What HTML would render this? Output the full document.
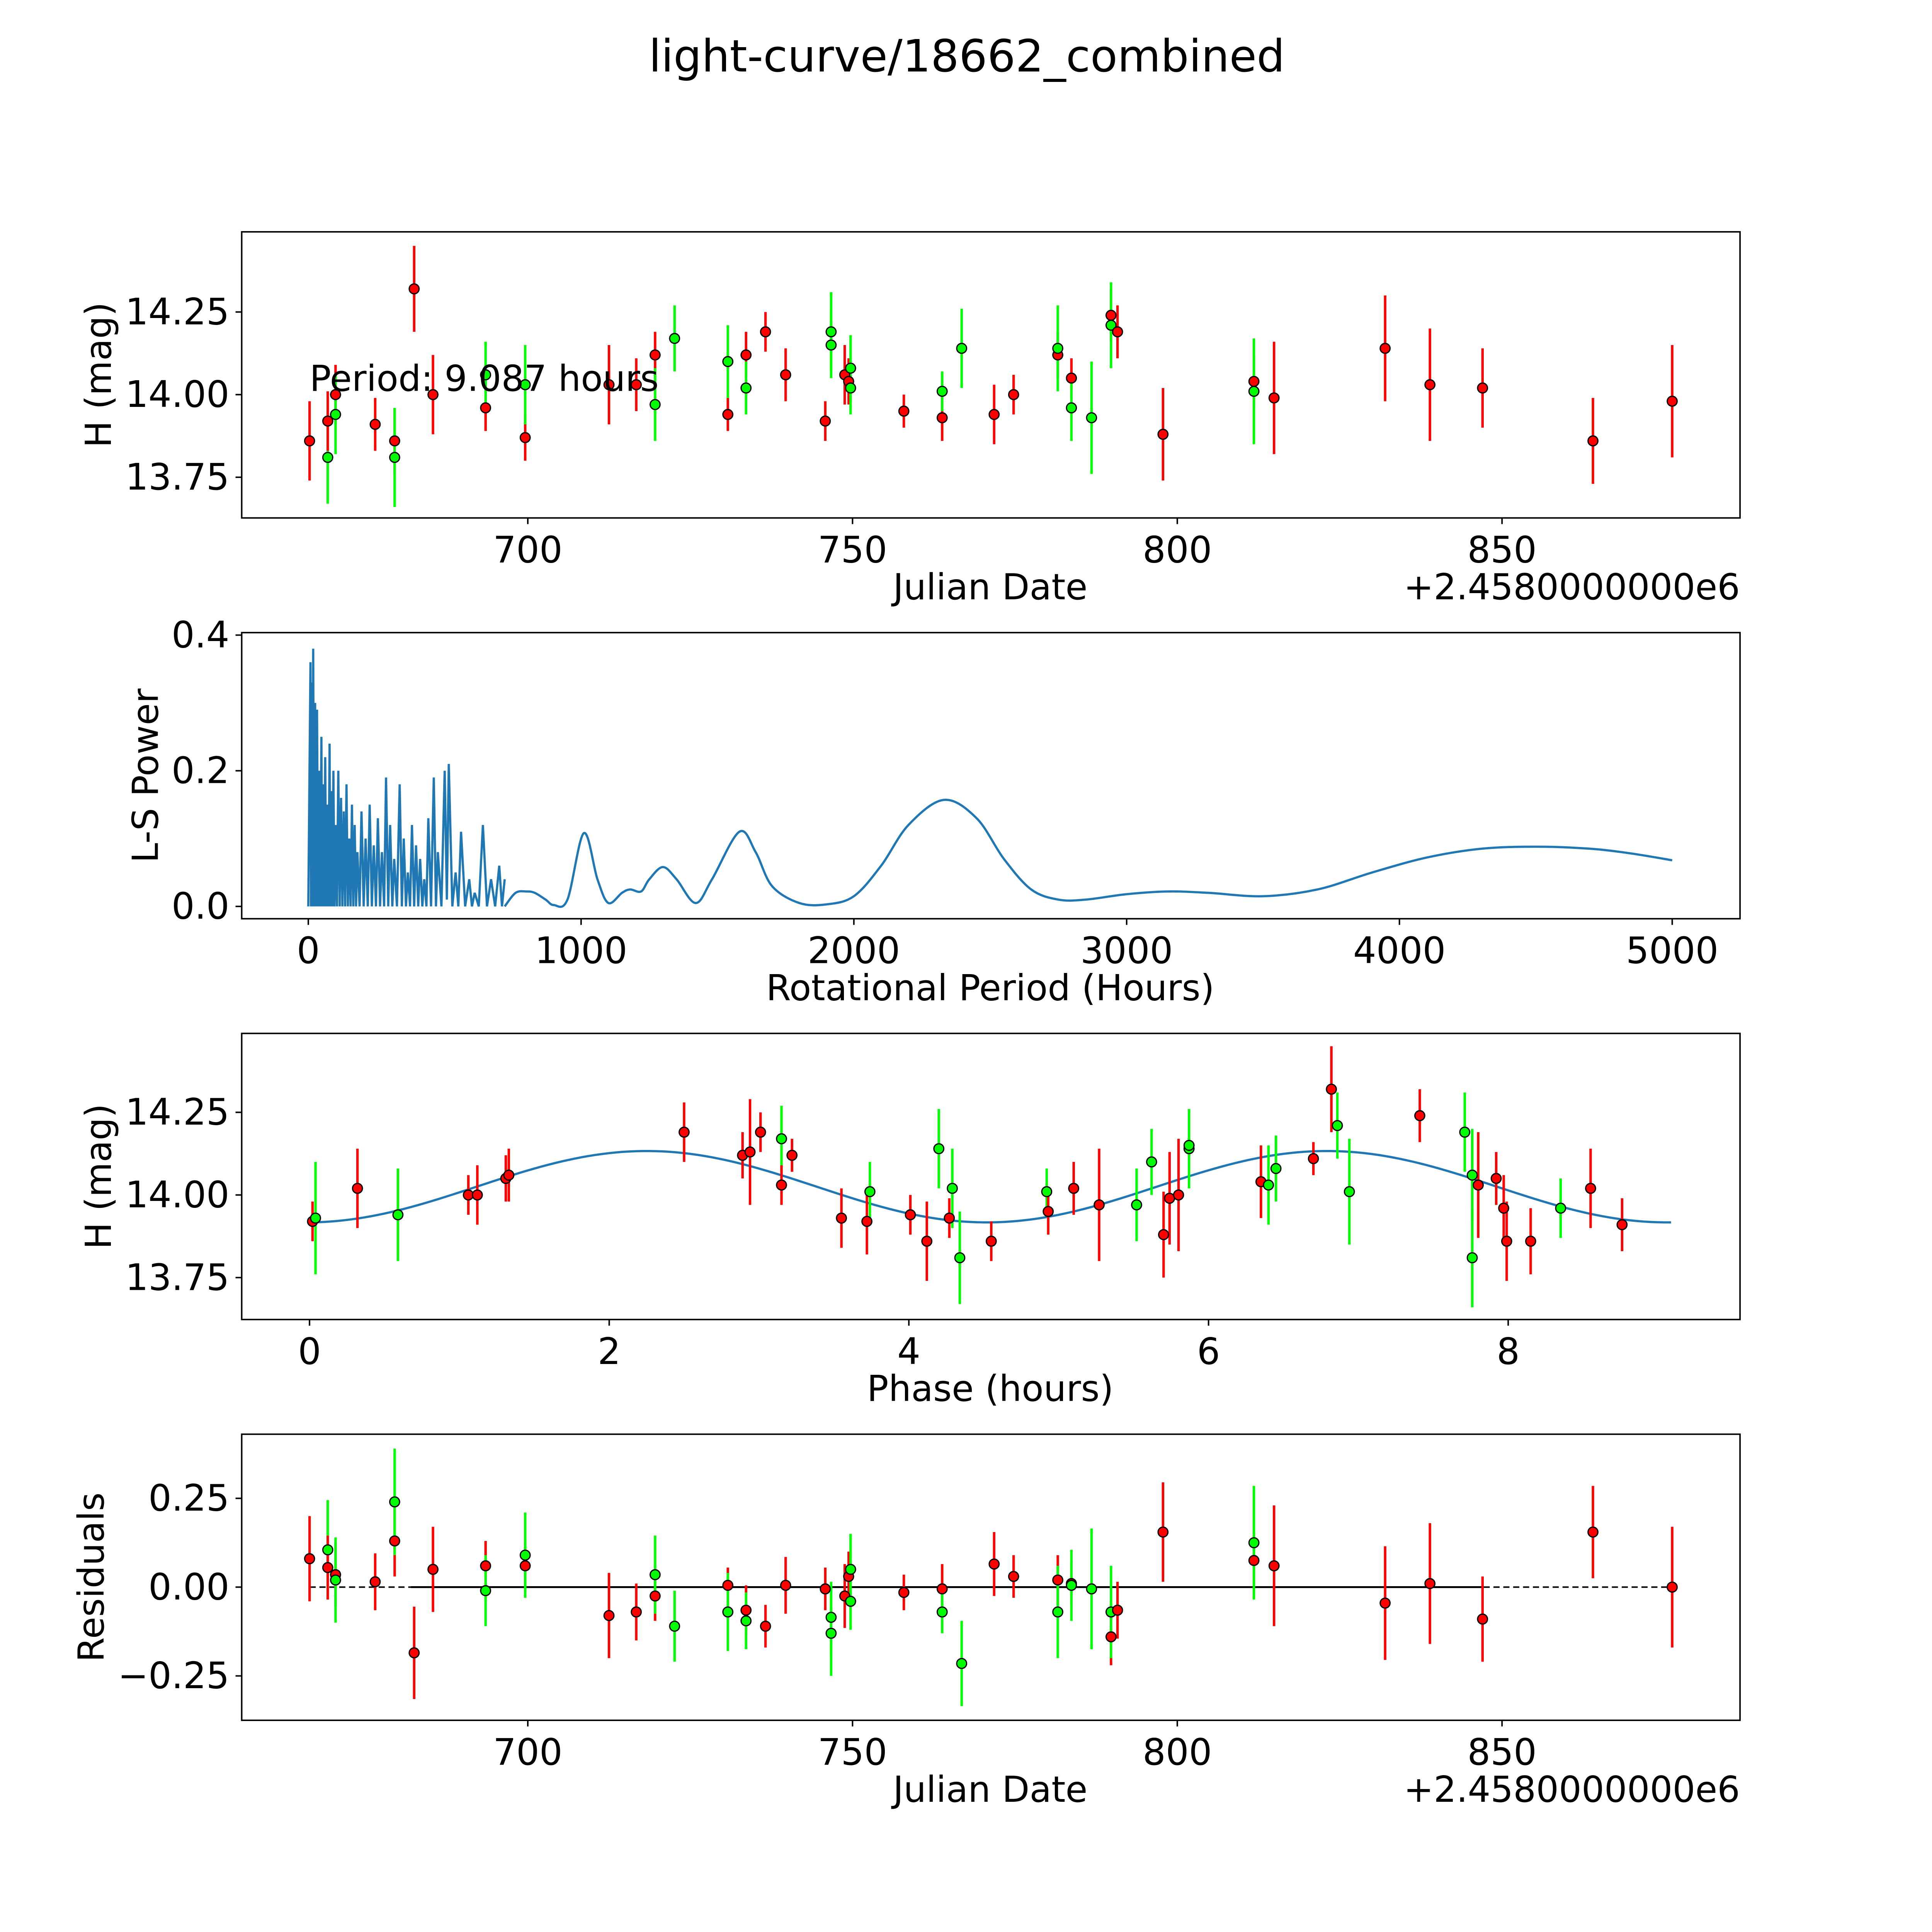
<!DOCTYPE html>
<html><head><meta charset="utf-8"><style>html,body{margin:0;padding:0;background:#fff;overflow:hidden;width:5400px;height:5400px}svg{display:block}text{font-family:"DejaVu Sans","Liberation Sans",sans-serif;fill:#000}</style></head>
<body>
<svg id="fig" xmlns="http://www.w3.org/2000/svg" width="5400" height="5400" viewBox="0 0 1692 1692" preserveAspectRatio="xMinYMin meet">
<rect width="1692" height="1692" fill="#fff"/>
<text x="784" y="58" font-size="36" text-anchor="middle">light-curve/18662_combined</text>
</svg>
<script>
// Light curve observations
const obsDates=[666.4,669.2,669.2,670.4,670.4,676.5,679.5,679.5,682.5,685.4,693.5,693.5,699.6,699.6,712.5,716.7,719.6,719.6,722.6,730.8,730.8,733.6,733.6,736.6,739.7,745.8,746.7,746.7,748.8,749.4,749.7,749.7,757.9,763.8,763.8,766.8,771.8,774.8,781.6,781.6,783.7,783.7,786.8,789.8,789.8,790.8,797.8,811.8,811.8,814.9,832.0,838.9,847.0,864.0,876.2];
const obsMags=[13.86,13.81,13.92,14.00,13.94,13.91,13.86,13.81,14.32,14.00,13.96,14.06,13.87,14.03,14.03,14.03,14.12,13.97,14.17,13.94,14.10,14.12,14.02,14.19,14.06,13.92,14.19,14.15,14.06,14.04,14.08,14.02,13.95,13.93,14.01,14.14,13.94,14.00,14.12,14.14,14.05,13.96,13.93,14.24,14.21,14.19,13.88,14.04,14.01,13.99,14.14,14.03,14.02,13.86,13.98];
const obsErrs=[0.12,0.14,0.09,0.09,0.12,0.08,0.1,0.15,0.13,0.12,0.07,0.1,0.07,0.12,0.12,0.08,0.07,0.11,0.1,0.05,0.11,0.07,0.08,0.06,0.08,0.06,0.12,0.1,0.09,0.07,0.1,0.08,0.05,0.07,0.06,0.12,0.09,0.06,0.07,0.13,0.06,0.1,0.17,0.08,0.13,0.08,0.14,0.08,0.16,0.17,0.16,0.17,0.12,0.13,0.17];
const obsColors=["r","g","r","r","g","r","r","g","r","r","r","g","r","g","r","r","r","g","g","r","g","r","g","r","r","r","g","g","r","r","g","g","r","r","g","g","r","r","r","g","r","g","g","r","g","r","r","r","g","r","r","r","r","r","r"];
const residuals=[0.08,0.105,0.055,0.035,0.02,0.015,0.13,0.24,-0.185,0.05,0.06,-0.01,0.06,0.09,-0.08,-0.07,-0.025,0.035,-0.11,0.005,-0.07,-0.065,-0.095,-0.11,0.005,-0.005,-0.13,-0.085,-0.025,0.03,0.05,-0.04,-0.015,-0.005,-0.07,-0.215,0.065,0.03,0.02,-0.07,0.01,0.005,-0.005,-0.14,-0.07,-0.065,0.155,0.075,0.125,0.06,-0.045,0.01,-0.09,0.155,0.0];
// Phase-folded points
const phases=[0.02,0.04,0.32,0.59,1.06,1.12,1.31,1.33,2.5,2.89,2.94,3.01,3.15,3.15,3.22,3.55,3.72,3.74,4.01,4.12,4.2,4.27,4.29,4.34,4.55,4.92,4.93,5.1,5.27,5.52,5.62,5.7,5.74,5.8,5.87,5.87,6.35,6.4,6.45,6.7,6.82,6.86,6.94,7.41,7.71,7.76,7.8,7.76,7.92,7.97,7.99,8.15,8.35,8.55,8.76];
const phaseMags=[13.92,13.93,14.02,13.94,14.00,14.00,14.05,14.06,14.19,14.12,14.13,14.19,14.17,14.03,14.12,13.93,13.92,14.01,13.94,13.86,14.14,13.93,14.02,13.81,13.86,14.01,13.95,14.02,13.97,13.97,14.10,13.88,13.99,14.00,14.14,14.15,14.04,14.03,14.08,14.11,14.32,14.21,14.01,14.24,14.19,14.06,14.03,13.81,14.05,13.96,13.86,13.86,13.96,14.02,13.91];
const phaseErrs=[0.06,0.17,0.12,0.14,0.06,0.09,0.07,0.08,0.09,0.07,0.16,0.06,0.1,0.06,0.05,0.09,0.1,0.09,0.06,0.12,0.12,0.06,0.12,0.14,0.06,0.07,0.07,0.08,0.17,0.11,0.1,0.13,0.14,0.17,0.12,0.1,0.11,0.12,0.1,0.05,0.13,0.1,0.16,0.08,0.12,0.14,0.16,0.15,0.08,0.1,0.12,0.1,0.09,0.12,0.08];
const phaseColors=["r","g","r","g","r","r","r","r","r","r","r","r","g","r","r","r","r","g","r","r","g","r","g","g","r","g","r","r","r","g","g","r","r","r","g","g","r","g","g","r","r","g","g","r","g","g","r","g","r","r","r","r","g","r","r"];
// Fit model parameters
const fitMean=[14.025];const fitAmp=[0.108];const fitPeak=[2.25];const fitCycle=[4.54];const fitRange=[0,9.087];
// Periodogram
const lsPeriods=[0,8,10,12,14,18,21,25,28,32,36,40,44,48,51,55,58,62,66,70,74,78,81,85,88,92,96,100,105,110,115,120,125,130,135,140,145,150,155,160,165,170,175,180,188,195,203,210,218,225,233,240,248,255,263,270,278,285,293,300,308,315,325,335,343,350,358,365,373,380,388,395,403,410,418,425,433,440,450,460,468,475,488,500,508,515,528,540,550,560,575,590,600,610,625,640,655,670,685,700,710,720];
const lsPowers=[0,0.36,0,0.33,0,0.38,0,0.3,0,0.29,0,0.2,0,0.25,0,0.18,0,0.22,0,0.15,0,0.24,0,0.17,0,0.2,0,0.12,0,0.2,0,0.16,0,0.14,0,0.18,0,0.1,0,0.15,0,0.12,0,0.08,0,0.14,0,0.1,0,0.15,0,0.09,0,0.13,0,0.08,0,0.19,0,0.12,0,0.07,0,0.18,0,0.1,0,0.05,0,0.12,0,0.09,0,0.07,0,0.04,0,0.13,0,0.19,0,0.08,0,0.2,0.01,0.21,0,0.05,0,0.11,0,0.04,0,0.02,0,0.12,0,0.04,0,0.06,0,0.04];
const lsTailPeriods=[720,760,800,830,870,900,950,1010,1060,1100,1150,1180,1220,1250,1300,1350,1420,1480,1580,1640,1700,1800,1900,2000,2100,2200,2330,2450,2550,2650,2750,2850,3000,3150,3300,3500,3700,3900,4100,4300,4500,4700,4850,5000];
const lsTailPowers=[0.0,0.02,0.022,0.02,0.01,0.002,0.01,0.108,0.04,0.005,0.02,0.025,0.022,0.04,0.058,0.04,0.005,0.04,0.11,0.08,0.03,0.005,0.003,0.015,0.06,0.12,0.157,0.13,0.07,0.025,0.01,0.01,0.018,0.022,0.02,0.015,0.025,0.05,0.072,0.085,0.088,0.085,0.078,0.068];
// Tick labels
const jdTicks=[700,750,800,850];
const magTicks=[13.75,14.00,14.25];
const lsXTicks=[0,1000,2000,3000,4000,5000];
const lsYTicks=[0.0,0.2,0.4];
const phaseTicks=[0,2,4,6,8];
const residTicks=[-0.25,0.00,0.25];

const NS="http://www.w3.org/2000/svg";
const svg=document.getElementById('fig');
function mk(tag,attrs,parent){const e=document.createElementNS(NS,tag);for(const k in attrs)e.setAttribute(k,attrs[k]);(parent||svg).appendChild(e);return e;}
function lin(d0,d1,r0,r1){return v=>r0+(v-d0)*(r1-r0)/(d1-d0);}
const L=196,R=1411;
const TS=29.5, LS=29;
function panel(name,top,bot,xs,ys,xt,yt,xfmt,yfmt,xlabel,ylabel,ylx,offset){
  const g=mk('g',{});
  
  
  const clip=mk('clipPath',{id:'c'+name},g);mk('rect',{x:L,y:top,width:R-L,height:bot-top},clip);
  const plot=mk('g',{'clip-path':'url(#c'+name+')'},g);
  
  
  xt.forEach(v=>{const x=xs(v);mk('line',{x1:x,x2:x,y1:bot,y2:bot+5,stroke:'#000','stroke-width':1.2},g);
    const t=mk('text',{x:x,y:bot+36,'font-size':TS,'text-anchor':'middle'},g);t.textContent=xfmt(v);
    
    });
  yt.forEach(v=>{const y=ys(v);mk('line',{x1:L-5,x2:L,y1:y,y2:y,stroke:'#000','stroke-width':1.2},g);
    const t=mk('text',{x:L-10,y:y+10,'font-size':TS,'text-anchor':'end'},g);t.textContent=yfmt(v);
    
    });
  const xl=mk('text',{x:803,y:bot+66,'font-size':LS,'text-anchor':'middle'},g);xl.textContent=xlabel;
  
  
  const yl=mk('text',{x:ylx,y:(top+bot)/2,'font-size':LS,'text-anchor':'middle',transform:`rotate(-90 ${ylx} ${(top+bot)/2})`},g);yl.textContent=ylabel;
  
  
  if(offset){const o=mk('text',{x:R,y:bot+66,'font-size':LS,'text-anchor':'end'},g);o.textContent=offset;
    
    }
  mk('rect',{x:L,y:top,width:R-L,height:bot-top,fill:'none',stroke:'#000','stroke-width':1.2},g);
  return plot;
}
const COL={r:'#ff0000',g:'#00ff00'};
function points(plot,xsA,ysA,errA,colA,xs,ys){
  for(let i=0;i<xsA.length;i++){const x=xs(xsA[i]),e=errA[i];
    const l=mk('line',{x1:x,x2:x,y1:ys(ysA[i]+e),y2:ys(ysA[i]-e),stroke:COL[colA[i]],'stroke-width':2},plot);
    
    }
  for(let i=0;i<xsA.length;i++){
    const c=mk('circle',{cx:xs(xsA[i]),cy:ys(ysA[i]),r:4,fill:COL[colA[i]],stroke:'#000','stroke-width':1},plot);
    
    }
}
const f2=v=>v.toFixed(2), f0=v=>String(v), f1=v=>v.toFixed(1);
const fres=v=>(v<0?'\u2212':'')+Math.abs(v).toFixed(2);

// Panel 1
const x1=lin(700,850,428,1218), y1=lin(13.75,14.25,387,253);
const p1=panel('light-curve-panel',188,420,x1,y1,jdTicks,magTicks,f0,f2,'Julian Date','H (mag)',90,'+2.4580000000e6');
points(p1,obsDates,obsMags,obsErrs,obsColors,x1,y1);
const per=mk('text',{x:251,y:317,'font-size':LS});per.textContent='Period: 9.087 hours';



// Panel 2
const x2=lin(0,5000,250,1356), y2=lin(0,0.4,735,515);
const p2=panel('periodogram-panel',513,745,x2,y2,lsXTicks,lsYTicks,f0,f1,'Rotational Period (Hours)','L-S Power',128);
let d='';lsPeriods.forEach((p,i)=>{d+=(i?'L':'M')+x2(p).toFixed(2)+','+y2(lsPowers[i]).toFixed(2);});
const spk=mk('path',{d:d,fill:'none',stroke:'#1f77b4','stroke-width':1.8},p2);


const P=lsTailPeriods.map((p,i)=>[x2(p),y2(lsTailPowers[i])]);
let d2='M'+P[0][0]+','+P[0][1];
for(let i=0;i<P.length-1;i++){const a=P[Math.max(0,i-1)],b=P[i],c=P[i+1],e=P[Math.min(P.length-1,i+2)];
  d2+=`C${b[0]+(c[0]-a[0])/6},${b[1]+(c[1]-a[1])/6} ${c[0]-(e[0]-b[0])/6},${c[1]-(e[1]-b[1])/6} ${c[0]},${c[1]}`;}
const tail=mk('path',{d:d2,fill:'none',stroke:'#1f77b4','stroke-width':1.8},p2);



// Panel 3
const x3=lin(0,8,251,1223), y3=lin(13.75,14.25,1036,902);
const p3=panel('phase-panel',838,1070,x3,y3,phaseTicks,magTicks,f0,f2,'Phase (hours)','H (mag)',90);
let d3='';for(let k=0;k<=200;k++){const t=fitRange[0]+(fitRange[1]-fitRange[0])*k/200;
  const m=fitMean[0]+fitAmp[0]*Math.cos(2*Math.PI*(t-fitPeak[0])/fitCycle[0]);d3+=(k?'L':'M')+x3(t).toFixed(2)+','+y3(m).toFixed(2);}
const fit=mk('path',{d:d3,fill:'none',stroke:'#1f77b4','stroke-width':1.8},p3);


points(p3,phases,phaseMags,phaseErrs,phaseColors,x3,y3);

// Panel 4
const y4=lin(0,0.25,1287,1215);
const p4=panel('residuals-panel',1163,1395,x1,y4,jdTicks,residTicks,f0,fres,'Julian Date','Residuals',84,'+2.4580000000e6');
const zl=mk('line',{x1:x1(666.4),x2:x1(876.2),y1:y4(0),y2:y4(0),stroke:'#000','stroke-width':1.2,'stroke-dasharray':'5,3'},p4);


const zs=mk('line',{x1:x1(682),x2:x1(847),y1:y4(0),y2:y4(0),stroke:'#000','stroke-width':1.5},p4);


points(p4,obsDates,residuals,obsErrs,obsColors,x1,y4);
</script>
</body></html>
